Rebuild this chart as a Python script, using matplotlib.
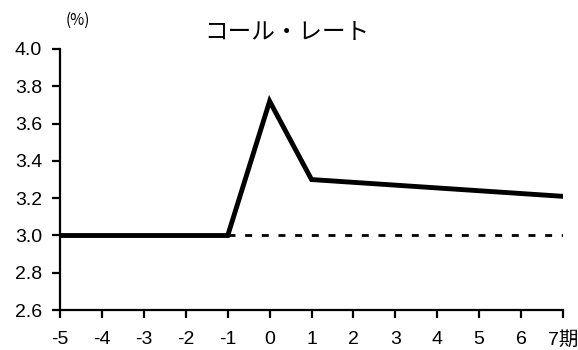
import matplotlib
matplotlib.use("Agg")
import matplotlib.pyplot as plt

plt.rcParams['font.family'] = ['Liberation Sans', 'Noto Sans CJK JP', 'DejaVu Sans']

periods = [-5, -4, -3, -2, -1, 0, 1, 2, 3, 4, 5, 6, 7]
rate = [3.0, 3.0, 3.0, 3.0, 3.0, 3.72, 3.30, 3.285, 3.27, 3.255, 3.24, 3.225, 3.21]
base_x = [-1, 7]
base_y = [3.0, 3.0]
xlabels = ['-5', '-4', '-3', '-2', '-1', '0', '1', '2', '3', '4', '5', '6', '7期']
yticks = [2.6, 2.8, 3.0, 3.2, 3.4, 3.6, 3.8, 4.0]

fig = plt.figure(figsize=(5.78, 3.5), dpi=100)
ax = fig.add_axes([0.104, 0.114, 0.870, 0.746])

ax.plot(base_x, base_y, color='black', lw=2, linestyle=(0, (2.5, 3.5)))
ax.plot(periods, rate, color='black', lw=3.5, solid_joinstyle='miter')

ax.set_xlim(-5, 7)
ax.set_ylim(2.6, 4.0)
ax.set_xticks(periods)
ax.set_xticklabels(xlabels)
ax.set_yticks(yticks)
ax.set_yticklabels([f'{v:.1f}' for v in yticks])

for s in ['top', 'right']:
    ax.spines[s].set_visible(False)
for s in ['left', 'bottom']:
    ax.spines[s].set_linewidth(1.6)
ax.tick_params(direction='out', length=6, width=1.6, labelsize=14)
ax.tick_params(axis='x', pad=9)
ax.tick_params(axis='y', pad=7)

fig.text(287 / 578, 1 - 32 / 350, 'コール・レート', ha='center', va='center',
         fontsize=17, family=['Noto Sans CJK JP', 'DejaVu Sans'])
fig.text(78 / 578, 1 - 20 / 350, '(%)', ha='center', va='center', fontsize=11,
         family=['Noto Sans CJK JP', 'DejaVu Sans'])

fig.savefig('out.png', dpi=100)
